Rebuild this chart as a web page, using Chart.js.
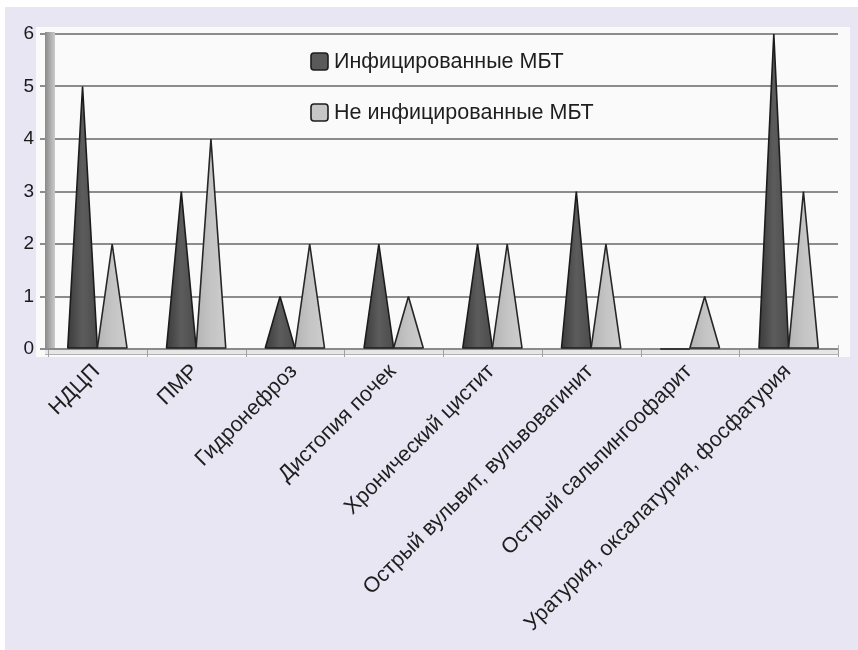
<!DOCTYPE html>
<html>
<head>
<meta charset="utf-8">
<script src="https://cdn.jsdelivr.net/npm/chart.js@4.4.0/dist/chart.umd.min.js"></script>
<style>
  html, body { margin: 0; padding: 0; background: #ffffff; }
  canvas { display: block; }
</style>
</head>
<body>
<canvas id="chart" width="858" height="650"></canvas>
<script>
// Categories (diagnoses) and counts per group
const categories = [
  'НДЦП',
  'ПМР',
  'Гидронефроз',
  'Дистопия почек',
  'Хронический цистит',
  'Острый вульвит, вульвовагинит',
  'Острый сальпингоофарит',
  'Уратурия, оксалатурия, фосфатурия'
];
const infected = [5, 3, 1, 2, 2, 3, 0, 6];
const notInfected = [2, 4, 2, 1, 2, 2, 1, 3];
const seriesNames = ['Инфицированные МБТ', 'Не инфицированные МБТ'];
const yMin = 0;
const yMax = 6;
const yStep = 1;

const FONT = '"Liberation Sans", Arial, Helvetica, sans-serif';
const coneStyles = [
  { stops: ['#3c3c3c', '#5c5c5c', '#4c4c4c'], stroke: '#1c1c1c', legend: '#5a5a5a' },
  { stops: ['#b4b4b4', '#c4c4c4', '#cdcdcd'], stroke: '#262626', legend: '#c6c6c6' }
];

// Page tint and the light plotting panel behind the axes
const backdrop = {
  id: 'backdrop',
  beforeDraw(chart) {
    const { ctx, chartArea: a, width, height } = chart;
    ctx.save();
    ctx.fillStyle = '#ffffff';
    ctx.fillRect(0, 0, width, height);
    ctx.fillStyle = '#e8e6f3';
    ctx.fillRect(5, 7, width - 5, height - 7);
    ctx.fillStyle = '#fafafa';
    ctx.fillRect(a.left - 12, a.top - 7, (a.right + 12) - (a.left - 12), (a.bottom + 8) - (a.top - 7));
    ctx.restore();
  }
};

// Left wall and floor of the pseudo-3D frame
const frame3d = {
  id: 'frame3d',
  beforeDatasetsDraw(chart) {
    const { ctx, chartArea: a } = chart;
    ctx.save();
    // wall
    const g = ctx.createLinearGradient(a.left - 3, 0, a.left + 7, 0);
    g.addColorStop(0, '#8a8a8a');
    g.addColorStop(1, '#cacaca');
    ctx.fillStyle = g;
    ctx.fillRect(a.left - 3, a.top - 2, 10, a.bottom - a.top + 5);
    // floor
    ctx.fillStyle = '#e6e6e6';
    ctx.fillRect(a.left - 3, a.bottom, a.right - a.left + 3, 5);
    ctx.strokeStyle = '#8a8a8a';
    ctx.lineWidth = 2;
    ctx.beginPath();
    ctx.moveTo(a.left - 3, a.bottom);
    ctx.lineTo(a.right, a.bottom);
    ctx.stroke();
    ctx.strokeStyle = '#b0b0b0';
    ctx.lineWidth = 1;
    ctx.beginPath();
    ctx.moveTo(a.left - 3, a.bottom + 5.5);
    ctx.lineTo(a.right, a.bottom + 5.5);
    ctx.moveTo(a.right + 0.5, a.bottom - 4);
    ctx.lineTo(a.right + 0.5, a.bottom + 6);
    ctx.stroke();
    // category separators on the floor
    const n = categories.length;
    const step = (a.right - a.left) / n;
    ctx.strokeStyle = '#a0a0a0';
    ctx.beginPath();
    for (let i = 0; i <= n; i++) {
      const px = Math.round(a.left + i * step) + 0.5;
      ctx.moveTo(px, a.bottom + 1);
      ctx.lineTo(px, a.bottom + 8);
    }
    ctx.stroke();
    ctx.restore();
  }
};

// Each bar element is drawn as a cone (triangle) spanning the bar's width
const cones = {
  id: 'cones',
  afterDatasetsDraw(chart) {
    const { ctx } = chart;
    ctx.save();
    chart.data.datasets.forEach((ds, di) => {
      const meta = chart.getDatasetMeta(di);
      const st = coneStyles[di];
      meta.data.forEach((bar) => {
        const { x, y, base, width } = bar.getProps(['x', 'y', 'base', 'width'], true);
        const l = x - width / 2, r = x + width / 2;
        const g = ctx.createLinearGradient(l, 0, r, 0);
        g.addColorStop(0, st.stops[0]);
        g.addColorStop(0.5, st.stops[1]);
        g.addColorStop(1, st.stops[2]);
        ctx.beginPath();
        ctx.moveTo(l, base);
        ctx.lineTo(x, y);
        ctx.lineTo(r, base);
        ctx.closePath();
        ctx.fillStyle = g;
        ctx.fill();
        ctx.lineJoin = 'bevel';
        ctx.lineWidth = 1.6;
        ctx.strokeStyle = st.stroke;
        ctx.stroke();
      });
    });
    ctx.restore();
  }
};

// Legend placed inside the plotting panel
const innerLegend = {
  id: 'innerLegend',
  afterDraw(chart) {
    const { ctx, chartArea: a } = chart;
    ctx.save();
    ctx.font = '21.5px ' + FONT;
    ctx.textBaseline = 'middle';
    ctx.textAlign = 'left';
    chart.data.datasets.forEach((ds, i) => {
      const bx = a.left + 263;
      const cy = a.top + 27 + i * 51;
      ctx.beginPath();
      if (ctx.roundRect) ctx.roundRect(bx, cy - 8, 17, 17, 3); else ctx.rect(bx, cy - 8, 17, 17);
      ctx.fillStyle = coneStyles[i].legend;
      ctx.fill();
      ctx.lineWidth = 1.6;
      ctx.strokeStyle = '#1e1e1e';
      ctx.stroke();
      ctx.fillStyle = '#1e1e1e';
      ctx.fillText(ds.label, bx + 23, cy + 1);
    });
    ctx.restore();
  }
};

new Chart(document.getElementById('chart'), {
  type: 'bar',
  data: {
    labels: categories,
    datasets: [
      { label: seriesNames[0], data: infected, backgroundColor: 'rgba(0,0,0,0)', borderWidth: 0 },
      { label: seriesNames[1], data: notInfected, backgroundColor: 'rgba(0,0,0,0)', borderWidth: 0 }
    ]
  },
  options: {
    responsive: false,
    animation: false,
    events: [],
    layout: { padding: { top: 34, right: 20, left: 0, bottom: 0 } },
    datasets: { bar: { categoryPercentage: 0.6, barPercentage: 1.0 } },
    plugins: {
      legend: { display: false },
      tooltip: { enabled: false }
    },
    scales: {
      x: {
        offset: true,
        grid: { display: false, drawTicks: false },
        border: { display: false },
        ticks: {
          autoSkip: false,
          minRotation: 45,
          maxRotation: 45,
          padding: 10,
          labelOffset: -1,
          color: '#1e1e1e',
          font: { family: FONT, size: 21.5 }
        },
        afterFit(scale) { scale.height = 301; }
      },
      y: {
        min: yMin,
        max: yMax,
        ticks: {
          stepSize: yStep,
          padding: 6,
          color: '#1a1a1a',
          font: { family: FONT, size: 19 }
        },
        grid: { color: '#8c8c8c', lineWidth: 2, tickLength: 8, drawTicks: true },
        border: { display: false },
        afterFit(scale) { scale.width = 48; }
      }
    }
  },
  plugins: [backdrop, frame3d, cones, innerLegend]
});
</script>
</body>
</html>
